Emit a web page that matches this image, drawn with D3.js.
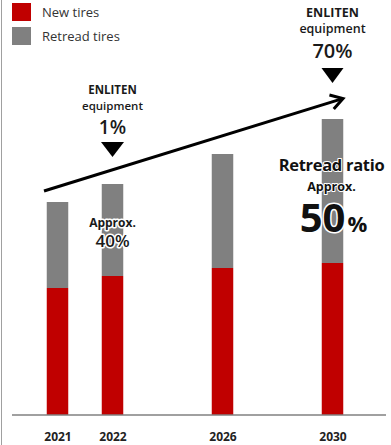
<!DOCTYPE html>
<html>
<head>
<meta charset="utf-8">
<script src="https://cdn.jsdelivr.net/npm/d3@7"></script>
<style>
  html, body { margin: 0; padding: 0; background: #fff; }
  svg { display: block; font-family: "Open Sans", "Noto Sans", sans-serif; }
</style>
</head>
<body>
<svg id="chart" width="391" height="445"></svg>
<script>
const years = ["2021", "2022", "2026", "2030"];
const newTires = [127, 139, 147, 152];
const retreadTires = [86, 92, 114, 144];
const legendLabels = ["New tires", "Retread tires"];
const enlitenShare = [{ year: "2022", label: "1%" }, { year: "2030", label: "70%" }];
const retreadRatio = [{ year: "2022", label: "40" }, { year: "2030", label: "50" }];

const RED = "#c00000", GRAY = "#808080";
const svg = d3.select("#chart");

// left frame line
svg.append("line").attr("x1", 1.5).attr("x2", 1.5).attr("y1", 0).attr("y2", 445)
  .attr("stroke", "#a0a0a0").attr("stroke-width", 1);

const x = d3.scaleLinear().domain([2021, 2022, 2030]).range([57.5, 112.5, 332.5]);
const y = d3.scaleLinear().domain([0, 300]).range([415, 115]);
const barW = 21.5;

const data = years.map((yr, i) => ({ year: yr, n: newTires[i], r: retreadTires[i] }));

// bars
const g = svg.append("g");
g.selectAll("rect.new").data(data).join("rect").attr("class", "new")
  .attr("x", d => x(+d.year) - barW / 2).attr("width", barW)
  .attr("y", d => y(d.n)).attr("height", d => y(0) - y(d.n)).attr("fill", RED);
g.selectAll("rect.ret").data(data).join("rect").attr("class", "ret")
  .attr("x", d => x(+d.year) - barW / 2).attr("width", barW)
  .attr("y", d => y(d.n + d.r)).attr("height", d => y(d.n) - y(d.n + d.r)).attr("fill", GRAY);

// baseline axis
const xAxis = d3.axisBottom(x).tickValues(years.map(Number)).tickFormat(d3.format("d"))
  .tickSize(0).tickPadding(17);
const ax = svg.append("g").attr("transform", `translate(0,${y(0)})`).call(xAxis);
ax.select(".domain").remove();
ax.append("line").attr("x1", 12).attr("x2", 386).attr("y1", 0).attr("y2", 0)
  .attr("stroke", "#808080").attr("stroke-width", 1.5);
ax.selectAll(".tick text").attr("font-size", 12).attr("font-weight", "bold")
  .attr("fill", "#222").attr("font-family", "Open Sans, sans-serif");

// legend
const leg = svg.append("g");
legendLabels.forEach((t, i) => {
  leg.append("rect").attr("x", 12).attr("y", 3 + i * 24).attr("width", 19).attr("height", 18)
    .attr("fill", i === 0 ? RED : GRAY);
  leg.append("text").attr("x", 42).attr("y", 17 + i * 24).attr("font-size", 13)
    .attr("fill", "#333").text(t);
});

// growth arrow
const arrow = svg.append("g").attr("stroke", "#000").attr("stroke-width", 3)
  .attr("fill", "none").attr("stroke-linecap", "butt");
const p0 = [44, 191], p1 = [343, 98.5];
arrow.append("line").attr("x1", p0[0]).attr("y1", p0[1]).attr("x2", p1[0] - 2).attr("y2", p1[1] + 0.6);
const ang = Math.atan2(p1[1] - p0[1], p1[0] - p0[0]);
const hl = 14, spread = 0.55;
arrow.append("path")
  .attr("d", `M${p1[0] - hl * Math.cos(ang - spread)},${p1[1] - hl * Math.sin(ang - spread)} L${p1[0]},${p1[1]} L${p1[0] - hl * Math.cos(ang + spread)},${p1[1] - hl * Math.sin(ang + spread)}`)
  .attr("stroke-linejoin", "miter");

// ENLITEN annotations
const enl = [
  { cx: x(2022), top: 94, fs1: 11.5, gap: 15.5, fsP: 19, pGap: 40, tri: [142, 157], w: 23 },
  { cx: x(2030), top: 17, fs1: 12.5, gap: 15.5, fsP: 20, pGap: 41, tri: [68, 83], w: 22 }
];
enlitenShare.forEach((e, i) => {
  const o = enl[i];
  const tg = svg.append("g").attr("text-anchor", "middle").attr("fill", "#1a1a1a");
  tg.append("text").attr("x", o.cx).attr("y", o.top).attr("font-size", o.fs1).attr("font-weight", "bold").text("ENLITEN");
  tg.append("text").attr("x", o.cx).attr("y", o.top + o.gap).attr("font-size", o.fs1).attr("font-weight", 600).text("equipment");
  tg.append("text").attr("x", o.cx).attr("y", o.top + o.pGap).attr("font-size", o.fsP).attr("font-weight", 600).text(e.label);
  svg.append("path").attr("d", `M${o.cx - o.w / 2},${o.tri[0]} L${o.cx + o.w / 2},${o.tri[0]} L${o.cx},${o.tri[1]} Z`).attr("fill", "#000");
});

// retread ratio annotations
function halo(sel, w) {
  return sel.attr("stroke", "#fff").attr("stroke-width", w).attr("stroke-linejoin", "round").attr("paint-order", "stroke");
}
const r22 = svg.append("g").attr("text-anchor", "middle").attr("fill", "#1a1a1a");
halo(r22.append("text").attr("x", x(2022)).attr("y", 227).attr("font-size", 12).attr("font-weight", "bold").text("Approx."), 3);
halo(r22.append("text").attr("x", x(2022)).attr("y", 247).attr("font-size", 17).attr("font-weight", 600).text(retreadRatio[0].label + "%"), 3);

const cx30 = x(2030) - 1;
const r30 = svg.append("g").attr("text-anchor", "middle").attr("fill", "#111");
halo(r30.append("text").attr("x", cx30).attr("y", 171).attr("font-size", 16.5).attr("font-weight", "bold")
  .attr("letter-spacing", -0.3).text("Retread ratio"), 2);
halo(r30.append("text").attr("x", cx30).attr("y", 191).attr("font-size", 12.5).attr("font-weight", "bold").text("Approx."), 2);
const big = r30.append("text").attr("x", cx30 + 2).attr("y", 232).attr("font-weight", "bold");
big.append("tspan").attr("font-size", 40).text(retreadRatio[1].label);
big.append("tspan").attr("font-size", 22).attr("dx", 2).text("%");
halo(big, 3);
</script>
</body>
</html>
